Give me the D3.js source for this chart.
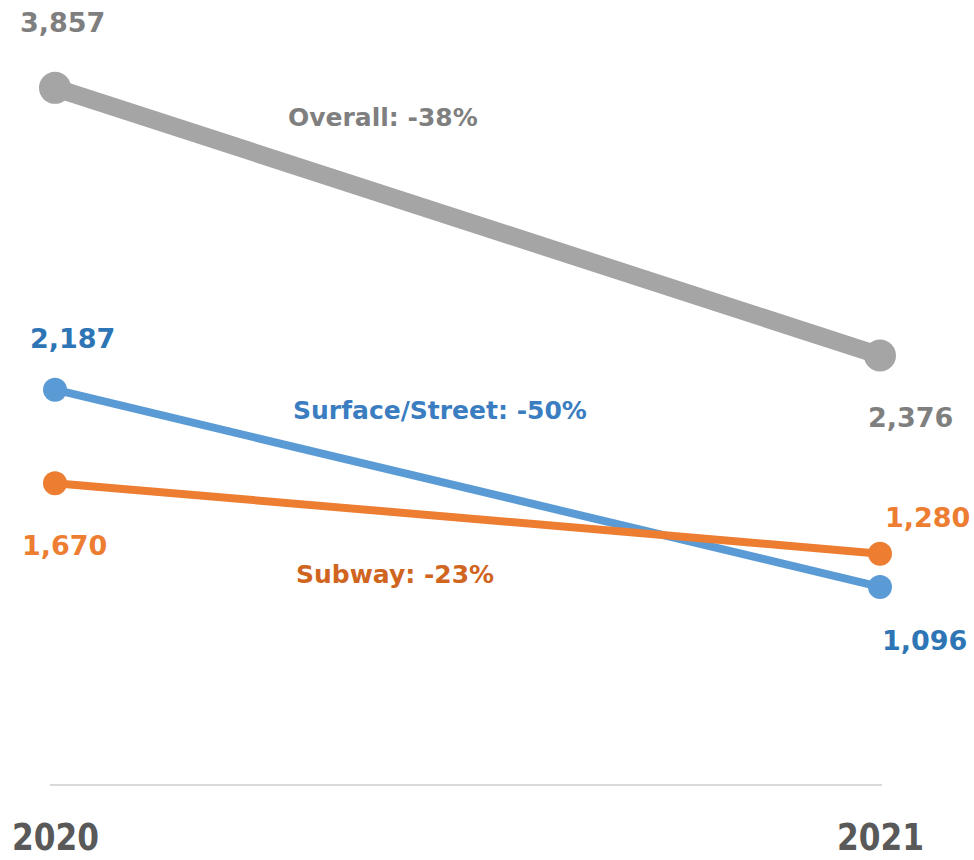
<!DOCTYPE html>
<html>
<head>
<meta charset="utf-8">
<script src="https://cdn.jsdelivr.net/npm/d3@7"></script>
<style>
  html, body { margin: 0; padding: 0; background: #fff; }
  svg { display: block; }
  .val { font-family: "DejaVu Sans", Verdana, sans-serif; font-weight: bold; font-size: 27px; }
  .note { font-family: "DejaVu Sans", Verdana, sans-serif; font-weight: bold; font-size: 25px; }
  .axis text { font-family: "DejaVu Sans Condensed", "DejaVu Sans", sans-serif; font-weight: bold; font-size: 38px; fill: #595959; }
</style>
</head>
<body>
<svg width="974" height="860"></svg>
<script>
// data
var years = ["2020", "2021"];
var overall = [3857, 2376];
var surface = [2187, 1096];
var subway = [1670, 1280];
var notes = ["Overall: -38%", "Surface/Street: -50%", "Subway: -23%"];

var svg = d3.select("svg"),
    width = +svg.attr("width"),
    height = +svg.attr("height");

var x = d3.scalePoint().domain(years).range([55, 880]);
var y = d3.scaleLinear().domain([0, 4000]).range([785, 62]);
var fmt = d3.format(",");

// styles + label placement per series (layout only)
var series = [
  {name: "overall", values: overall, line: "#a5a5a5", text: "#7f7f7f", note: notes[0], noteColor: "#7f7f7f",
   width: 18, r: 16, lab: [[20, 32], [868, 427]], notePos: [288, 126]},
  {name: "surface", values: surface, line: "#5b9bd5", text: "#2e75b6", note: notes[1], noteColor: "#3a7dc0",
   width: 8, r: 12, lab: [[30, 348], [882, 650]], notePos: [293, 419]},
  {name: "subway", values: subway, line: "#ed7d31", text: "#ed7d31", note: notes[2], noteColor: "#d0651f",
   width: 8, r: 12, lab: [[22, 555], [885, 527]], notePos: [296, 583]}
];

// bottom axis, just the thin base line and the years
var axis = svg.append("g")
    .attr("class", "axis")
    .attr("transform", "translate(0," + y(0) + ")")
    .call(d3.axisBottom(x).tickSize(0).tickSizeOuter(0));
axis.select(".domain")
    .attr("stroke", "#d9d9d9")
    .attr("stroke-width", 2)
    .attr("d", "M" + (x("2020") - 5) + ",0H" + (x("2021") + 2));
axis.selectAll(".tick text")
    .attr("dy", 0)
    .attr("y", 65)
    .attr("textLength", 87)
    .attr("lengthAdjust", "spacingAndGlyphs");

var line = d3.line()
    .x(function(d, i) { return x(years[i]); })
    .y(function(d) { return y(d); });

var g = svg.selectAll("g.series")
    .data(series)
    .enter().append("g")
    .attr("class", "series");

g.append("path")
    .attr("d", function(s) { return line(s.values); })
    .attr("fill", "none")
    .attr("stroke", function(s) { return s.line; })
    .attr("stroke-width", function(s) { return s.width; });

g.selectAll("circle")
    .data(function(s) { return s.values.map(function(v, i) { return {v: v, i: i, s: s}; }); })
    .enter().append("circle")
    .attr("cx", function(d) { return x(years[d.i]); })
    .attr("cy", function(d) { return y(d.v); })
    .attr("r", function(d) { return d.s.r; })
    .attr("fill", function(d) { return d.s.line; });

g.selectAll("text.val")
    .data(function(s) { return s.values.map(function(v, i) { return {v: v, i: i, s: s}; }); })
    .enter().append("text")
    .attr("class", "val")
    .attr("x", function(d) { return d.s.lab[d.i][0]; })
    .attr("y", function(d) { return d.s.lab[d.i][1]; })
    .attr("fill", function(d) { return d.s.text; })
    .text(function(d) { return fmt(d.v); });

g.append("text")
    .attr("class", "note")
    .attr("x", function(s) { return s.notePos[0]; })
    .attr("y", function(s) { return s.notePos[1]; })
    .attr("fill", function(s) { return s.noteColor; })
    .text(function(s) { return s.note; });
</script>
</body>
</html>
